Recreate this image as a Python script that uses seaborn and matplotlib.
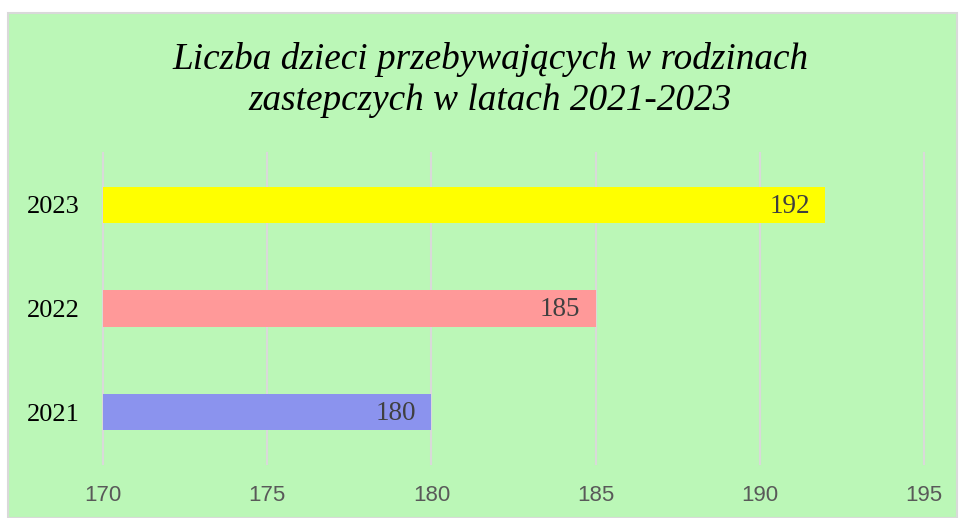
import matplotlib
matplotlib.use("Agg")
import matplotlib.pyplot as plt
import seaborn as sns
from matplotlib.patches import Rectangle

# dane
lata = ["2023", "2022", "2021"]
liczba_dzieci = [192, 185, 180]
kolory = ["#FFFF00", "#FF9999", "#8B93EE"]
tytul = "Liczba dzieci przebywających w rodzinach\nzastepczych w latach 2021-2023"
os_x_ticks = [170, 175, 180, 185, 190, 195]

tlo = "#BBF7B7"

fig = plt.figure(figsize=(9.59, 5.18), dpi=100)
fig.patch.set_facecolor("white")
fig.patches.append(Rectangle((8 / 959, 0), 949 / 959, 505 / 518, transform=fig.transFigure,
                             facecolor=tlo, edgecolor="#D9D9D9", linewidth=1.5, zorder=-10))

ax = fig.add_axes([103 / 959, 54 / 518, 821 / 959, 311 / 518])
ax.set_facecolor(tlo)
ax.patch.set_alpha(0)

sns.barplot(x=liczba_dzieci, y=lata, hue=lata, palette=kolory, orient="h",
            width=0.35, legend=False, ax=ax, saturation=1, zorder=3)

ax.set_xlim(170, 195)
ax.set_xticks(os_x_ticks)
ax.set_xticklabels([str(t) for t in os_x_ticks], fontfamily="Liberation Sans",
                   fontsize=16, color="#595959")
ax.tick_params(axis="x", length=0, pad=15)
ax.tick_params(axis="y", length=0, pad=17)
for lab in ax.get_yticklabels():
    lab.set_fontfamily("Liberation Serif")
    lab.set_fontsize(19)
    lab.set_color("black")

ax.grid(axis="x", color="#D9D9D9", linewidth=1.5, zorder=0)
for gl in ax.get_xgridlines():
    gl.set_clip_on(False)
ax.set_axisbelow(True)
for s in ax.spines.values():
    s.set_visible(False)
ax.set_xlabel("")
ax.set_ylabel("")

# etykiety wartosci
for i, v in enumerate(liczba_dzieci):
    ax.annotate(str(v), xy=(v, i), xytext=(-11, -1), textcoords="offset points",
                ha="right", va="center", fontfamily="Liberation Serif",
                fontsize=19.5, color="#404040", zorder=5)

fig.text(490 / 959, 1 - 80 / 518, tytul, ha="center", va="center",
         fontfamily="Liberation Serif", fontstyle="italic", fontsize=26.8,
         linespacing=1.27, color="black")

fig.savefig("out.png", dpi=100)
